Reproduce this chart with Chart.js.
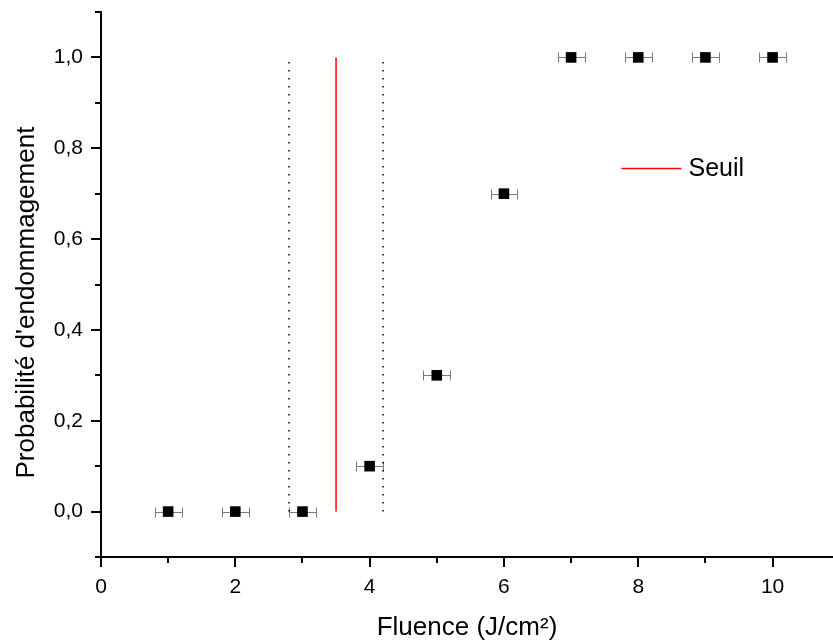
<!DOCTYPE html>
<html>
<head>
<meta charset="utf-8">
<script src="https://cdn.jsdelivr.net/npm/chart.js@4"></script>
<style>
  html, body { margin: 0; padding: 0; background: #fff; overflow: hidden; }
  canvas { display: block; }
</style>
</head>
<body>
<canvas id="chart" width="833" height="643"></canvas>
<script>
const fluence = [1, 2, 3, 4, 5, 6, 7, 8, 9, 10];
const probability = [0, 0, 0, 0.1, 0.3, 0.7, 1, 1, 1, 1];
const fluenceError = [0.2, 0.2, 0.2, 0.2, 0.2, 0.2, 0.2, 0.2, 0.2, 0.2];
const thresholdX = 3.5;
const thresholdBounds = [2.8, 4.2];
const lineSpan = [0, 1];

const FONT = "'Liberation Sans', Arial, sans-serif";

function vline(x) {
    return lineSpan.map(y => ({ x: x, y: y }));
}

// horizontal error bars, drawn under the squares
const errorBars = {
    id: 'errorBars',
    beforeDatasetsDraw(chart) {
        const ctx = chart.ctx;
        const xs = chart.scales.x, ys = chart.scales.y;
        ctx.save();
        ctx.strokeStyle = '#7a7a7a';
        ctx.lineWidth = 1;
        fluence.forEach((v, i) => {
            const py = Math.round(ys.getPixelForValue(probability[i])) + 0.5;
            const x0 = Math.round(xs.getPixelForValue(v - fluenceError[i])) + 0.5;
            const x1 = Math.round(xs.getPixelForValue(v + fluenceError[i])) + 0.5;
            ctx.beginPath();
            ctx.moveTo(x0, py); ctx.lineTo(x1, py);
            ctx.moveTo(x0, py - 5); ctx.lineTo(x0, py + 5);
            ctx.moveTo(x1, py - 5); ctx.lineTo(x1, py + 5);
            ctx.stroke();
        });
        ctx.restore();
    }
};

// outward tick marks, long for labelled ticks and short for the others
const tickMarks = {
    id: 'tickMarks',
    afterDraw(chart) {
        const ctx = chart.ctx;
        const xs = chart.scales.x, ys = chart.scales.y;
        ctx.save();
        ctx.strokeStyle = '#000';
        ctx.lineWidth = 2;
        ctx.beginPath();
        xs.ticks.forEach(t => {
            const px = Math.round(xs.getPixelForValue(t.value));
            const len = t.label ? 10 : 6;
            ctx.moveTo(px, xs.top);
            ctx.lineTo(px, xs.top + len);
        });
        ys.ticks.forEach(t => {
            const py = Math.round(ys.getPixelForValue(t.value));
            const len = t.label ? 10 : 6;
            ctx.moveTo(ys.right, py);
            ctx.lineTo(ys.right - len, py);
        });
        ctx.stroke();

        // legend
        const area = chart.chartArea;
        const lx = area.left + (area.right - area.left) * 0.711;
        const ly = area.top + (area.bottom - area.top) * 0.287;
        ctx.strokeStyle = '#ff0000';
        ctx.lineWidth = 1.5;
        ctx.beginPath();
        ctx.moveTo(lx, ly);
        ctx.lineTo(lx + 60, ly);
        ctx.stroke();
        ctx.fillStyle = '#000';
        ctx.font = '25px ' + FONT;
        ctx.textBaseline = 'middle';
        ctx.fillText('Seuil', lx + 67, ly + 1);
        ctx.restore();
    }
};

new Chart(document.getElementById('chart'), {
    type: 'scatter',
    data: {
        datasets: [
            {
                label: 'Probabilité',
                data: fluence.map((x, i) => ({ x: x, y: probability[i] })),
                pointStyle: 'rect',
                pointRadius: 7.5,
                pointBorderWidth: 0,
                backgroundColor: '#000',
                borderColor: '#000'
            },
            {
                label: 'Seuil',
                type: 'line',
                data: vline(thresholdX),
                borderColor: '#ff0000',
                borderWidth: 1.5,
                pointRadius: 0
            },
            {
                label: 'min',
                type: 'line',
                data: vline(thresholdBounds[0]),
                borderColor: '#000',
                borderWidth: 1.5,
                borderDash: [1.5, 6.5],
                pointRadius: 0
            },
            {
                label: 'max',
                type: 'line',
                data: vline(thresholdBounds[1]),
                borderColor: '#000',
                borderWidth: 1.5,
                borderDash: [1.5, 6.5],
                pointRadius: 0
            }
        ]
    },
    options: {
        responsive: false,
        animation: false,
        layout: { autoPadding: false, padding: { top: 12, right: 0, left: 0, bottom: 0 } },
        plugins: {
            legend: { display: false },
            tooltip: { enabled: false }
        },
        scales: {
            x: {
                type: 'linear',
                min: 0,
                max: 10.9,
                afterFit: s => { s.height = 86; s.paddingLeft = 0; s.paddingRight = 0; },
                grid: { display: false, drawTicks: true, tickLength: 10 },
                border: { display: true, color: '#000', width: 2 },
                ticks: {
                    stepSize: 1,
                    includeBounds: false,
                    autoSkip: false,
                    maxRotation: 0,
                    padding: 8,
                    color: '#000',
                    font: { family: FONT, size: 21 },
                    callback: v => (Math.round(v) % 2 === 0 ? String(Math.round(v)) : '')
                },
                title: {
                    display: true,
                    text: 'Fluence (J/cm²)',
                    color: '#000',
                    font: { family: FONT, size: 26 },
                    padding: { top: 0, bottom: 0 }
                }
            },
            y: {
                type: 'linear',
                min: -0.1,
                max: 1.1,
                afterFit: s => { s.width = 101; s.paddingTop = 0; s.paddingBottom = 0; },
                grid: { display: false, drawTicks: true, tickLength: 10 },
                border: { display: true, color: '#000', width: 2 },
                ticks: {
                    stepSize: 0.1,
                    autoSkip: false,
                    padding: 8,
                    color: '#000',
                    font: { family: FONT, size: 21 },
                    callback: v => {
                        const k = Math.round(v * 10);
                        if (k < 0 || k > 10 || k % 2 !== 0) return '';
                        return (k / 10).toFixed(1).replace('.', ',');
                    }
                },
                title: {
                    display: true,
                    text: "Probabilité d'endommagement     ",
                    color: '#000',
                    font: { family: FONT, size: 26 },
                    padding: { top: 11, bottom: 0 }
                }
            }
        }
    },
    plugins: [errorBars, tickMarks]
});
</script>
</body>
</html>
